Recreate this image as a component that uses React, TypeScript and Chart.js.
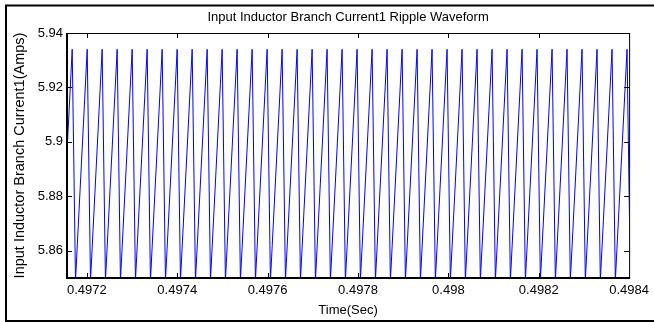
import React, { useEffect, useRef } from 'react';
import { Chart, registerables } from 'chart.js';

Chart.register(...registerables);

const chartTitle = 'Input Inductor Branch Current1 Ripple Waveform';
const xAxisTitle = 'Time(Sec)';
const yAxisTitle = 'Input Inductor Branch Current1(Amps)';

const xTicks = [0.4972, 0.4974, 0.4976, 0.4978, 0.498, 0.4982, 0.4984];
const xTickLabels = ['0.4972', '0.4974', '0.4976', '0.4978', '0.498', '0.4982', '0.4984'];
const yTicks = [5.86, 5.88, 5.9, 5.92, 5.94];
const yTickLabels = ['5.86', '5.88', '5.9', '5.92', '5.94'];

const xMin = 0.497156;
const xMax = 0.4984;
const yMin = 5.85;
const yMax = 5.94;

// trough just before the visible window
const leadTroughTime = 0.4971416;

// times of the ripple maxima (s)
const peakTimes = [
  0.4971675, 0.4972007, 0.4972338, 0.497267, 0.4973002, 0.4973334, 0.4973666, 0.4973998,
  0.497433, 0.4974662, 0.4974993, 0.4975325, 0.4975657, 0.4975989, 0.4976321, 0.4976653,
  0.4976985, 0.4977316, 0.4977648, 0.497798, 0.4978312, 0.4978644, 0.4978976, 0.4979308,
  0.4979639, 0.4979971, 0.4980303, 0.4980635, 0.4980967, 0.4981299, 0.4981631, 0.4981963,
  0.4982295, 0.4982626, 0.4982958, 0.498329, 0.4983622, 0.4983954,
];

// times of the ripple minima (s)
const troughTimes = [
  0.4971748, 0.497208, 0.4972411, 0.4972743, 0.4973075, 0.4973407, 0.4973739, 0.4974071,
  0.4974403, 0.4974735, 0.4975066, 0.4975398, 0.497573, 0.4976062, 0.4976394, 0.4976726,
  0.4977058, 0.4977389, 0.4977721, 0.4978053, 0.4978385, 0.4978717, 0.4979049, 0.4979381,
  0.4979712, 0.4980044, 0.4980376, 0.4980708, 0.498104, 0.4981372, 0.4981704, 0.4982036,
  0.4982368, 0.4982699, 0.4983031, 0.4983363, 0.4983695, 0.4984027,
];

const peakCurrent = 5.934;
const troughCurrent = 5.849;

const FONT = "'Liberation Sans', Arial, Helvetica, sans-serif";

const framePlugin = {
  id: 'matlabFrame',
  afterDraw(chart: any) {
    const { ctx, chartArea } = chart;
    const { left, right, top, bottom } = chartArea;
    const xs = chart.scales.x;
    const ys = chart.scales.y;
    ctx.save();
    ctx.strokeStyle = '#000';
    ctx.lineWidth = 1;
    ctx.beginPath();
    xTicks.forEach((v) => {
      const px = Math.round(xs.getPixelForValue(v)) + 0.5;
      ctx.moveTo(px, bottom);
      ctx.lineTo(px, bottom - 5);
      ctx.moveTo(px, top);
      ctx.lineTo(px, top + 5);
    });
    yTicks.forEach((v) => {
      const py = Math.round(ys.getPixelForValue(v)) + 0.5;
      ctx.moveTo(left, py);
      ctx.lineTo(left + 5, py);
      ctx.moveTo(right, py);
      ctx.lineTo(right - 5, py);
    });
    ctx.stroke();

    ctx.lineWidth = 1;
    ctx.beginPath();
    ctx.moveTo(left, top + 0.5);
    ctx.lineTo(right, top + 0.5);
    ctx.moveTo(right + 0.5, top);
    ctx.lineTo(right + 0.5, bottom);
    ctx.stroke();

    ctx.lineWidth = 2;
    ctx.beginPath();
    ctx.moveTo(left, top);
    ctx.lineTo(left, bottom);
    ctx.lineTo(right + 1, bottom);
    ctx.stroke();

    // outer figure border
    ctx.lineWidth = 2;
    ctx.beginPath();
    ctx.moveTo(660, 5.5);
    ctx.lineTo(6, 5.5);
    ctx.lineTo(6, 321);
    ctx.lineTo(660, 321);
    ctx.stroke();
    ctx.restore();
  },
};

export default function App() {
  const canvasRef = useRef<HTMLCanvasElement | null>(null);

  useEffect(() => {
    const canvas = canvasRef.current;
    if (!canvas) return;

    const points: { x: number; y: number }[] = [{ x: leadTroughTime, y: troughCurrent }];
    peakTimes.forEach((t, i) => {
      points.push({ x: t, y: peakCurrent });
      points.push({ x: troughTimes[i], y: troughCurrent });
    });

    const chart = new Chart(canvas, {
      type: 'line',
      data: {
        datasets: [
          {
            data: points,
            borderColor: '#0000ff',
            borderWidth: 1,
            pointRadius: 0,
            tension: 0,
            fill: false,
          },
        ],
      },
      options: {
        responsive: false,
        animation: false,
        devicePixelRatio: 1,
        layout: { padding: { left: 0, right: 21, top: 0, bottom: 0 } },
        plugins: {
          legend: { display: false },
          tooltip: { enabled: false },
          title: {
            display: true,
            text: chartTitle,
            fullSize: false,
            color: '#000',
            font: { family: FONT, size: 13, weight: 'normal' },
            padding: { top: 9.5, bottom: 7.9 },
          },
        },
        scales: {
          x: {
            type: 'linear',
            min: xMin,
            max: xMax,
            afterBuildTicks: (s: any) => {
              s.ticks = xTicks.map((value) => ({ value }));
            },
            afterFit: (s: any) => {
              s.height = 44;
            },
            ticks: {
              autoSkip: false,
              maxRotation: 0,
              minRotation: 0,
              padding: 5,
              color: '#000',
              font: { family: FONT, size: 13 },
              callback: (v: any) => {
                const i = xTicks.findIndex((t) => Math.abs(t - Number(v)) < 1e-9);
                return i >= 0 ? xTickLabels[i] : '';
              },
            },
            grid: { display: false, drawTicks: false },
            border: { display: false },
            title: {
              display: true,
              text: xAxisTitle,
              color: '#000',
              font: { family: FONT, size: 13 },
              padding: { top: 0, bottom: 4 },
            },
          },
          y: {
            type: 'linear',
            min: yMin,
            max: yMax,
            afterBuildTicks: (s: any) => {
              s.ticks = yTicks.map((value) => ({ value }));
            },
            afterFit: (s: any) => {
              s.width = 67;
            },
            ticks: {
              autoSkip: false,
              padding: 4,
              color: '#000',
              font: { family: FONT, size: 13 },
              callback: (v: any) => {
                const i = yTicks.findIndex((t) => Math.abs(t - Number(v)) < 1e-9);
                return i >= 0 ? yTickLabels[i] : '';
              },
            },
            grid: { display: false, drawTicks: false },
            border: { display: false },
            title: {
              display: true,
              text: yAxisTitle,
              color: '#000',
              font: { family: FONT, size: 14.5 },
              padding: { top: 11, bottom: 0 },
            },
          },
        },
      },
      plugins: [framePlugin],
    });

    return () => chart.destroy();
  }, []);

  return (
    <div style={{ position: 'absolute', left: 0, top: 0, width: 654, height: 322, background: '#fff' }}>
      <canvas ref={canvasRef} width={654} height={322} style={{ display: 'block', width: 654, height: 322 }} />
    </div>
  );
}
